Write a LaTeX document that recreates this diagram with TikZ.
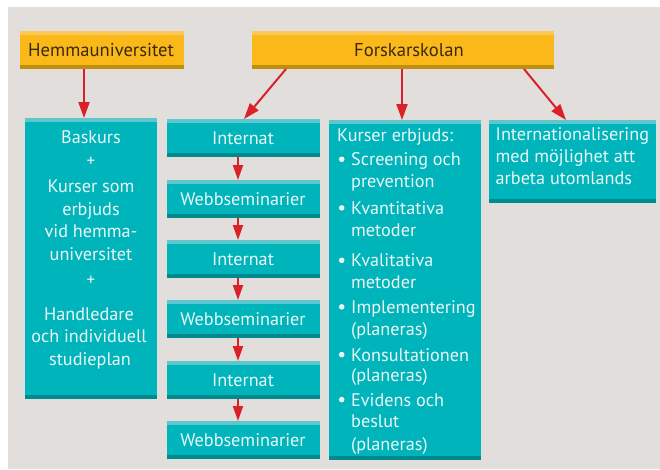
\documentclass[tikz,border=0pt]{standalone}
\usepackage{fontspec}
\setmainfont{PT Sans}
\usetikzlibrary{arrows.meta}
\definecolor{bg}{HTML}{E2DEDC}
\definecolor{orng}{HTML}{FBB819}
\definecolor{orngtop}{HTML}{FCC858}
\definecolor{orngbot}{HTML}{BE8E0C}
\definecolor{teal}{HTML}{00B4BB}
\definecolor{tealtop}{HTML}{5CC8CD}
\definecolor{tealbot}{HTML}{008A8E}
\definecolor{arr}{HTML}{DA2129}
\definecolor{darktxt}{HTML}{3A2A10}
\definecolor{lighttxt}{HTML}{EAF8F8}
\tikzset{
  box/.style={inner sep=0pt, outer sep=0pt, anchor=north west,
    path picture={
      \fill[#1top] (path picture bounding box.north west) rectangle ([yshift=-4pt]path picture bounding box.north east);
      \fill[#1bot] (path picture bounding box.south west) rectangle ([yshift=4pt]path picture bounding box.south east);
    }},
  obox/.style={box=orng, fill=orng},
  tbox/.style={box=teal, fill=teal},
  dtxt/.style={text=darktxt, inner sep=0pt, anchor=base west, font=\fontsize{18.6}{22}\selectfont},
  txt/.style={text=lighttxt, inner sep=0pt, anchor=base west, font=\fontsize{18.2}{22}\selectfont},
  ctxt/.style={txt, anchor=base},
  plus/.style={text=lighttxt, inner sep=0pt, font=\fontsize{17}{18}\selectfont},
  bul/.style={fill=lighttxt, circle, inner sep=0pt, minimum size=5.6pt},
  bigarr/.style={arr, line width=2pt, -{Triangle[length=16pt,width=11pt]}},
  smallarr/.style={arr, line width=2pt, -{Triangle[length=15pt,width=10pt]}},
}
\begin{document}
\begin{tikzpicture}[x=1pt,y=-1pt]
\useasboundingbox (0,0) rectangle (660,469);
\fill[bg] (8,7) rectangle (660,469);
% top boxes
\node[obox, minimum width=164, minimum height=38] (hemma) at (20,31) {};
\node[dtxt] (hemmat) at (28,56) {Hemmauniversitet};
\node[obox, minimum width=302, minimum height=38] (fsk) at (252,31) {};
\node[dtxt] (fskt) at (354,56) {Forskarskolan};
% left box
\node[tbox, minimum width=132, minimum height=281] (left) at (25,118) {};
\node[ctxt] (l1) at (91,143.3) {Baskurs};
\node[plus] (l2) at (91,161.7) {+};
\node[ctxt] (l3) at (91,192.7) {Kurser som};
\node[ctxt] (l4) at (91,215) {erbjuds};
\node[ctxt] (l5) at (91,237.7) {vid hemma-};
\node[ctxt] (l6) at (91,260) {universitet};
\node[plus] (l7) at (91,281) {+};
\node[ctxt] (l8) at (89,320.7) {Handledare};
\node[ctxt] (l9) at (89,342.7) {och individuell};
\node[ctxt] (l10) at (90,365) {studieplan};
% middle column
\node[tbox, minimum width=153, minimum height=38] (m1) at (167,119) {};
\node[tbox, minimum width=153, minimum height=38] (m2) at (167,180) {};
\node[tbox, minimum width=153, minimum height=38] (m3) at (167,240) {};
\node[tbox, minimum width=153, minimum height=38] (m4) at (167,300) {};
\node[tbox, minimum width=153, minimum height=38] (m5) at (167,361) {};
\node[tbox, minimum width=153, minimum height=38] (m6) at (167,421) {};
\node[ctxt] (m1t) at (243,144.5) {Internat};
\node[ctxt] (m2t) at (243,205.5) {Webbseminarier};
\node[ctxt] (m3t) at (243,265.5) {Internat};
\node[ctxt] (m4t) at (243,325.5) {Webbseminarier};
\node[ctxt] (m5t) at (243,386.5) {Internat};
\node[ctxt] (m6t) at (243,446.5) {Webbseminarier};
% Kurser box
\node[tbox, minimum width=152, minimum height=340] (kurs) at (329,120) {};
\node[txt] (k0) at (337,141.7) {Kurser erbjuds:};
\node[txt] (k1a) at (351,165.7) {Screening och};
\node[txt] (k1b) at (351,187.3) {prevention};
\node[txt] (k2a) at (351,214.3) {Kvantitativa};
\node[txt] (k2b) at (351,236.7) {metoder};
\node[txt] (k3a) at (351,266.7) {Kvalitativa};
\node[txt] (k3b) at (351,288) {metoder};
\node[txt] (k4a) at (351,313.3) {Implementering};
\node[txt] (k4b) at (351,335) {(planeras)};
\node[txt] (k5a) at (351,361) {Konsultationen};
\node[txt] (k5b) at (351,381.7) {(planeras)};
\node[txt] (k6a) at (351,406) {Evidens och};
\node[txt] (k6b) at (351,427.7) {beslut};
\node[txt] (k6c) at (351,450) {(planeras)};
\node[bul] (b1) at (341.7,159.3) {};
\node[bul] (b2) at (341.7,207.9) {};
\node[bul] (b3) at (341.7,260.3) {};
\node[bul] (b4) at (341.7,306.9) {};
\node[bul] (b5) at (341.7,354.6) {};
\node[bul] (b6) at (341.7,399.6) {};
% Internationalisering box
\node[tbox, minimum width=167, minimum height=83] (intl) at (489,120) {};
\node[txt] (i1) at (495.5,140) {Internationalisering};
\node[txt] (i2) at (495.5,162.5) {med möjlighet att};
\node[txt] (i3) at (495.5,184.5) {arbeta utomlands};
% arrows
\draw[bigarr] (hemma.south -| 84,0) -- (left.north -| 84,0);
\draw[bigarr] ([xshift=34pt]fsk.south west) -- ([xshift=77pt]m1.north west);
\draw[bigarr] (fsk.south -| 402,0) -- (kurs.north -| 402,0);
\draw[bigarr] ([xshift=272pt]fsk.south west) -- ([xshift=77pt]intl.north west);
\draw[smallarr] ([xshift=71pt]m1.south west) -- ([xshift=71pt]m2.north west);
\draw[smallarr] ([xshift=71pt]m2.south west) -- ([xshift=71pt]m3.north west);
\draw[smallarr] ([xshift=71pt]m3.south west) -- ([xshift=71pt]m4.north west);
\draw[smallarr] ([xshift=71pt]m4.south west) -- ([xshift=71pt]m5.north west);
\draw[smallarr] ([xshift=71pt]m5.south west) -- ([xshift=71pt]m6.north west);
\end{tikzpicture}
\end{document}
